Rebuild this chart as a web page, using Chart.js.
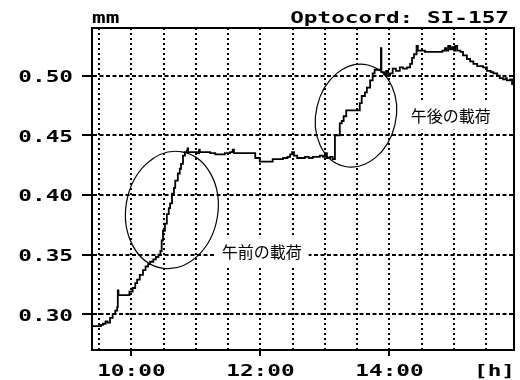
<!DOCTYPE html>
<html><head><meta charset="utf-8">
<script src="https://cdn.jsdelivr.net/npm/chart.js@4"></script>
<style>html,body{margin:0;padding:0;background:#fff}#wrap{width:520px;height:380px}</style>
</head><body><div id="wrap"><canvas id="c" width="520" height="380"></canvas></div>
<script>
// ---- data (hours as decimal, displacement in mm) ----
const times = [9.39,9.51,9.53,9.56,9.60,9.63,9.67,9.71,9.75,9.78,9.79,9.80,9.93,9.97,10.02,10.06,10.09,10.13,10.18,10.22,10.26,10.29,10.34,10.38,10.42,10.45,10.47,10.49,10.52,10.55,10.58,10.60,10.63,10.66,10.68,10.72,10.75,10.77,10.80,10.83,10.86,10.87,10.88,10.98,11.03,11.05,11.06,11.22,11.30,11.37,11.45,11.53,11.57,11.59,11.68,11.88,11.92,11.99,12.15,12.19,12.27,12.35,12.42,12.46,12.49,12.52,12.57,12.69,12.75,12.81,12.92,12.97,13.00,13.03,13.08,13.12,13.155,13.23,13.26,13.29,13.33,13.54,13.57,13.62,13.65,13.70,13.74,13.77,13.868,13.875,13.92,13.95,13.98,14.01,14.05,14.10,14.16,14.21,14.27,14.32,14.35,14.38,14.42,14.44,14.55,14.78,14.82,14.86,14.88,14.91,14.94,14.97,15.00,15.02,15.05,15.10,15.14,15.20,15.25,15.30,15.36,15.45,15.51,15.57,15.61,15.67,15.71,15.76,15.80,15.82,15.87,15.90,15.93];
const values = [0.290,0.290,0.291,0.292,0.294,0.293,0.297,0.300,0.303,0.306,0.320,0.316,0.316,0.319,0.322,0.326,0.329,0.333,0.337,0.340,0.342,0.344,0.346,0.348,0.350,0.353,0.362,0.370,0.376,0.384,0.389,0.393,0.401,0.406,0.412,0.418,0.422,0.426,0.433,0.436,0.437,0.439,0.436,0.436,0.435,0.438,0.436,0.435,0.434,0.434,0.435,0.436,0.438,0.435,0.435,0.435,0.431,0.428,0.428,0.430,0.430,0.431,0.432,0.434,0.436,0.433,0.431,0.432,0.431,0.432,0.433,0.432,0.435,0.431,0.432,0.430,0.450,0.460,0.462,0.466,0.471,0.477,0.483,0.486,0.490,0.496,0.502,0.505,0.523,0.503,0.501,0.504,0.500,0.502,0.506,0.504,0.507,0.506,0.507,0.510,0.515,0.518,0.525,0.521,0.520,0.520,0.521,0.523,0.521,0.525,0.522,0.524,0.521,0.525,0.521,0.520,0.517,0.514,0.512,0.510,0.508,0.507,0.504,0.503,0.502,0.500,0.498,0.497,0.498,0.496,0.497,0.493,0.486];
const xGridTicks = [9.5,10,10.5,11,11.5,12,12.5,13,13.5,14,14.5,15,15.5];
const xLabelTicks = [10,12,14];
const xLabels = ['10:00','12:00','14:00'];
const yTicks = [0.30,0.35,0.40,0.45,0.50];
const yLabels = ['0.30','0.35','0.40','0.45','0.50'];
const xUnit = '[h]';
const yUnit = 'mm';
const chartTitle = 'Optocord: SI-157';
const noteTexts = ['午前の載荷','午後の載荷'];
const noteX = [12.02, 14.95];
const noteY = [0.352, 0.4665];
const ringX = [10.628, 13.481];
const ringY = [0.3874, 0.4665];
// ---- styles ----
const ringStyle = [{rx:46, ry:59, rot:0.17},{rx:40, ry:52, rot:0.23}];
const MONO = 'bold 16px "DejaVu Sans Mono"';
const SX = 1.42;

function wideText(ctx, str, x, y, align) {
  ctx.save();
  ctx.translate(x, y);
  ctx.scale(SX, 1);
  ctx.font = MONO;
  ctx.fillStyle = '#000';
  ctx.textAlign = align;
  ctx.textBaseline = 'alphabetic';
  ctx.fillText(str, 0, 0);
  ctx.restore();
}

const overlay = {
  id: 'overlay',
  beforeDatasetsDraw(chart) {
    const ctx = chart.ctx, xs = chart.scales.x, ys = chart.scales.y;
    ctx.save();
    ctx.font = '16px "Noto Sans CJK JP"';
    noteTexts.forEach((t, i) => {
      const px = xs.getPixelForValue(noteX[i]);
      const py = ys.getPixelForValue(noteY[i]);
      const w = ctx.measureText(t).width;
      ctx.fillStyle = '#fff';
      ctx.fillRect(px - w/2 - 7, py - 14, w + 14, 28);
      ctx.fillStyle = '#000';
      ctx.textAlign = 'center';
      ctx.textBaseline = 'middle';
      ctx.fillText(t, px, py);
    });
    ctx.restore();
  },
  afterDraw(chart) {
    const ctx = chart.ctx, a = chart.chartArea, xs = chart.scales.x, ys = chart.scales.y;
    ctx.save();
    ctx.strokeStyle = '#000';
    ctx.lineWidth = 2;
    ctx.setLineDash([]);
    ctx.strokeRect(a.left, a.top, a.right - a.left, a.bottom - a.top);
    ctx.lineWidth = 1.2;
    ringX.forEach((v, i) => {
      const s = ringStyle[i];
      ctx.beginPath();
      ctx.ellipse(xs.getPixelForValue(v), ys.getPixelForValue(ringY[i]), s.rx, s.ry, s.rot, 0, Math.PI*2);
      ctx.stroke();
    });
    ctx.restore();
    yTicks.forEach((v, i) => {
      wideText(ctx, yLabels[i], 73, ys.getPixelForValue(v) + 6.5, 'right');
    });
    xLabelTicks.forEach((v, i) => {
      wideText(ctx, xLabels[i], xs.getPixelForValue(v), 376, 'center');
    });
    wideText(ctx, xUnit, a.right + 1, 376, 'right');
    wideText(ctx, yUnit, a.left, 23, 'left');
    wideText(ctx, chartTitle, 509, 23, 'right');
  }
};

new Chart(document.getElementById('c'), {
  type: 'line',
  data: {
    datasets: [{
      data: times.map((t, i) => ({x: t, y: values[i]})),
      borderColor: '#000',
      borderWidth: 1.8,
      pointRadius: 0,
      stepped: true,
      fill: false
    }]
  },
  options: {
    responsive: false,
    animation: false,
    devicePixelRatio: 1,
    layout: {padding: {top: 28, right: 6, left: 0, bottom: 0}},
    plugins: {legend: {display: false}, tooltip: {enabled: false}, title: {display: false}},
    scales: {
      x: {
        type: 'linear', min: 9.39, max: 15.93,
        afterBuildTicks: s => { s.ticks = xGridTicks.map(v => ({value: v})); },
        afterFit: s => { s.height = 30; },
        ticks: {display: false},
        grid: {
          color: '#000', lineWidth: 2, tickLength: 6, tickWidth: 2,
          tickColor: c => (c.tick && xLabelTicks.includes(c.tick.value)) ? '#000' : 'rgba(0,0,0,0)'
        },
        border: {display: true, color: '#000', width: 2, dash: [2, 3]}
      },
      y: {
        type: 'linear', min: 0.27, max: 0.54,
        afterBuildTicks: s => { s.ticks = yTicks.map(v => ({value: v})); },
        afterFit: s => { s.width = 92; },
        ticks: {display: false},
        grid: {color: '#000', lineWidth: 2, tickLength: 10, tickWidth: 2, tickColor: '#000'},
        border: {display: true, color: '#000', width: 2, dash: [4, 2.5]}
      }
    }
  },
  plugins: [overlay]
});
</script>
</body></html>
